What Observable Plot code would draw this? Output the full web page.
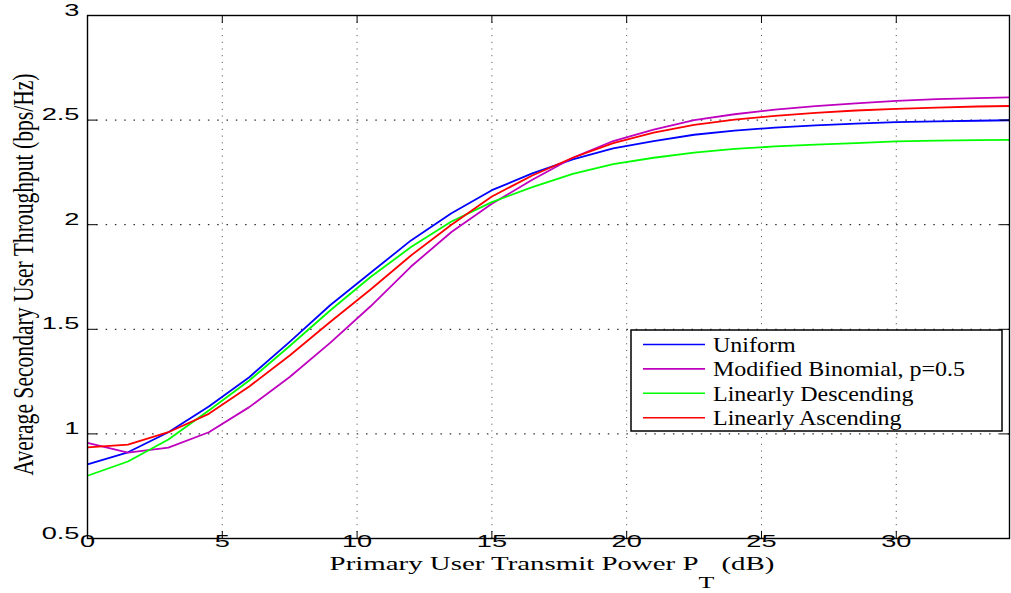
<!DOCTYPE html>
<html><head><meta charset="utf-8">
<script src="https://cdn.jsdelivr.net/npm/d3@7"></script>
<script src="https://cdn.jsdelivr.net/npm/@observablehq/plot@0.6"></script>
<style>
body{margin:0;background:#fff}
#wrap{position:relative;width:1011px;height:593px}
</style>
</head><body><div id="wrap"></div>
<script>
// ---- data ----
const power = [0,1.5,3,4.5,6,7.5,9,10.5,12,13.5,15,16.5,18,19.5,21,22.5,24,25.5,27,28.5,30,31.5,33,34.5];
const uniform = [0.854,0.912,1.008,1.131,1.271,1.44,1.615,1.77,1.925,2.055,2.165,2.245,2.312,2.365,2.400,2.430,2.450,2.464,2.475,2.483,2.490,2.494,2.497,2.500];
const modBinomial = [0.957,0.910,0.934,1.008,1.128,1.272,1.435,1.61,1.80,1.965,2.10,2.215,2.32,2.40,2.455,2.50,2.528,2.55,2.567,2.58,2.592,2.600,2.605,2.61];
const linDescending = [0.80,0.868,0.973,1.112,1.255,1.42,1.59,1.75,1.893,2.015,2.108,2.18,2.243,2.29,2.32,2.345,2.362,2.374,2.383,2.39,2.398,2.402,2.404,2.406];
const linAscending = [0.936,0.949,1.008,1.096,1.227,1.375,1.535,1.69,1.853,2.00,2.135,2.235,2.32,2.39,2.44,2.477,2.502,2.52,2.535,2.546,2.554,2.560,2.565,2.568];
const seriesNames = ["Uniform","Modified Binomial, p=0.5","Linearly Descending","Linearly Ascending"];
const seriesColors = ["#0000ff","#bf00bf","#00ff00","#ff0000"];
const xTicks = [0,5,10,15,20,25,30];
const yTicks = [0.5,1,1.5,2,2.5,3];
const xLabel = "Primary User Transmit Power P";
const xLabelSub = "T";
const xLabelTail = " (dB)";
const yLabel = "Average Secondary User Throughput (bps/Hz)";

const seriesValues = [uniform, modBinomial, linDescending, linAscending];
const rows = seriesNames.flatMap((s,i)=>seriesValues[i].map((v,j)=>({x:power[j], y:v, s})));

const W=1011, H=593;
const plot = Plot.plot({
  width: W, height: H,
  marginLeft: 87, marginRight: 2, marginTop: 15, marginBottom: 55,
  x: {domain:[0,34.2]},
  y: {domain:[0.5,3]},
  color: {domain: seriesNames, range: seriesColors},
  style: {fontFamily:"'Liberation Sans', Arial, sans-serif", fontSize:"16.5px", color:"#000", background:"#fff"},
  marks: [
    Plot.gridX(xTicks, {stroke:"#444", strokeOpacity:1, strokeWidth:1, strokeDasharray:"1,5.7"}),
    Plot.gridY(yTicks, {stroke:"#000", strokeOpacity:1, strokeWidth:1, strokeDasharray:"1.5,7.8"}),
    Plot.line(rows, {x:"x", y:"y", z:"s", stroke:"s", strokeWidth:1.8, clip:true}),
    Plot.axisX(xTicks, {anchor:"bottom", tickSize:0, tickPadding:8, label:null, tickFormat:d=>String(d)}),
    Plot.axisX(xTicks, {anchor:"bottom", tickSize:-7, tickFormat:()=>"", label:null}),
    Plot.axisX(xTicks, {anchor:"top", tickSize:-7, tickFormat:()=>"", label:null}),
    Plot.axisY(yTicks, {anchor:"left", tickSize:0, tickPadding:8, label:null, tickFormat:d=>String(d)}),
    Plot.axisY(yTicks, {anchor:"left", tickSize:-10, tickFormat:()=>"", label:null}),
    Plot.axisY(yTicks, {anchor:"right", tickSize:-10, tickFormat:()=>"", label:null}),
    Plot.frame({stroke:"#000", strokeWidth:1.4})
  ]
});
document.getElementById("wrap").appendChild(plot);

const svg = d3.select(plot);
// stretch tick labels horizontally like the reference
svg.selectAll("g[aria-label$='tick label'] text").each(function(){
  const t = d3.select(this);
  const tr = t.attr("transform");
  const x = +t.attr("x") || 0, y = +t.attr("y") || 0;
  t.attr("x", null).attr("y", null);
  t.attr("transform", (tr ? tr + " " : "") + `translate(${x},${y}) scale(1.65,1)`);
});

// axis labels
const xl = svg.append("text")
  .attr("transform","translate(552,570) scale(1.52,1)")
  .attr("text-anchor","middle")
  .style("font-family","'Liberation Serif','Times New Roman',serif")
  .style("font-size","19px").attr("fill","#000");
xl.append("tspan").text(xLabel);
xl.append("tspan").attr("dy",18).style("font-size","17px").text(xLabelSub);
xl.append("tspan").attr("dy",-18).text(xLabelTail);

svg.append("text")
  .attr("transform","translate(33,274.5) rotate(-90) scale(1,1.4)")
  .attr("text-anchor","middle")
  .style("font-family","'Liberation Serif','Times New Roman',serif")
  .style("font-size","21.6px").attr("fill","#000")
  .text(yLabel);

// legend
const lg = svg.append("g");
lg.append("rect").attr("x",631).attr("y",330).attr("width",371).attr("height",101)
  .attr("fill","#fff").attr("stroke","#000").attr("stroke-width",1.5);
seriesNames.forEach((n,i)=>{
  const cy = 344.5 + i*24.4;
  lg.append("line").attr("x1",643).attr("x2",705).attr("y1",cy).attr("y2",cy)
    .attr("stroke",seriesColors[i]).attr("stroke-width",1.6);
  lg.append("text").attr("transform",`translate(713,${cy+7.5}) scale(1.2,1)`)
    .attr("text-anchor","start")
    .style("font-family","'Liberation Serif','Times New Roman',serif")
    .style("font-size","20px").attr("fill","#000").text(n);
});
</script>
</body></html>
